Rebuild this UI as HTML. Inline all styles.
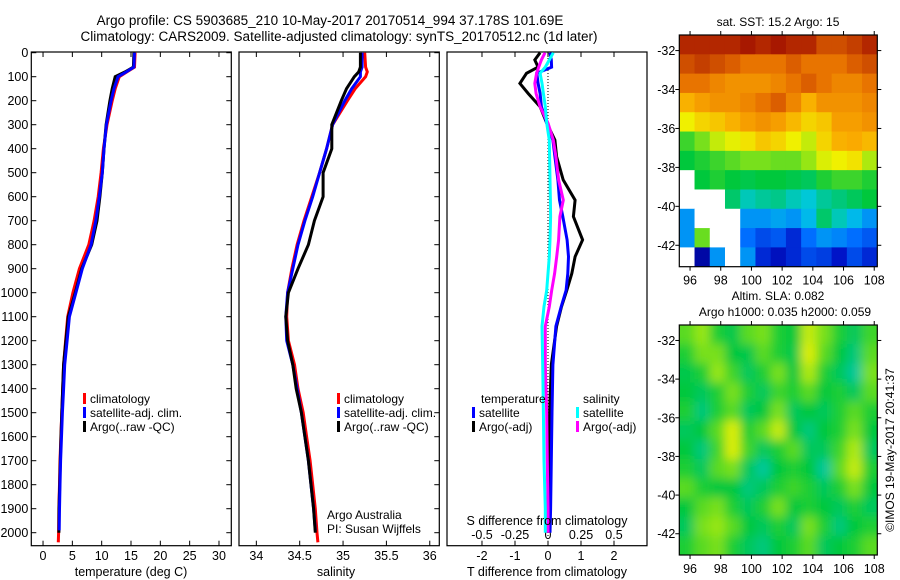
<!DOCTYPE html>
<html><head><meta charset="utf-8"><style>
html,body{margin:0;padding:0;background:#fff;}
svg{display:block;font-family:"Liberation Sans",sans-serif;}
</style></head><body>
<svg id="fig" width="900" height="580" viewBox="0 0 900 580" xmlns="http://www.w3.org/2000/svg">
<rect width="900" height="580" fill="#fff"/>
<text x="330" y="25" font-size="13.5" text-anchor="middle">Argo profile: CS 5903685_210 10-May-2017 20170514_994 37.178S 101.69E</text>
<text x="339" y="41" font-size="13.5" text-anchor="middle">Climatology: CARS2009. Satellite-adjusted climatology: synTS_20170512.nc (1d later)</text>
<g id="g1"></g>
<g id="g2"></g>
<g id="g3"></g>
<g id="g4"></g>
<g id="g5"></g>
<text x="778" y="26" font-size="12" text-anchor="middle">sat. SST: 15.2 Argo: 15</text>
<text x="778" y="300" font-size="12" text-anchor="middle">Altim. SLA: 0.082</text>
<text x="785" y="316" font-size="12" text-anchor="middle">Argo h1000: 0.035 h2000: 0.059</text>
<text transform="translate(894,450) rotate(-90)" font-size="12" text-anchor="middle">©IMOS 19-May-2017 20:41:37</text>
<text x="327" y="519" font-size="12">Argo Australia</text>
<text x="327" y="533" font-size="12">PI: Susan Wijffels</text>
</svg>
<script>
// ---- data ----
const depthT = [0,60,80,100,150,200,300,400,500,600,700,800,900,1000,1100,1200,1300,1400,1500,1600,1700,1800,1900,2000];
const argoT = [15.5,15.4,14,12.3,11.8,11.4,10.75,10.4,10.1,9.7,9.2,8.3,6.6,5.5,4.3,3.9,3.5,3.35,3.2,3.07,2.95,2.85,2.73,2.7];
const climT = [15.7,15.6,14.3,13,12.3,11.8,10.9,10.3,9.9,9.4,8.7,7.8,6.2,5.1,4.2,3.85,3.5,3.35,3.2,3.05,2.9,2.8,2.7,2.65];
const satT = [15.6,15.5,14.2,12.8,12.1,11.6,10.8,10.4,10.1,9.6,9.0,8.2,6.7,5.6,4.5,4.1,3.7,3.5,3.3,3.15,3.0,2.9,2.8,2.75];
const argoS = [35.2,35.2,35.18,35.13,35.04,34.98,34.87,34.87,34.77,34.77,34.67,34.6,34.48,34.37,34.34,34.36,34.42,34.46,34.52,34.56,34.6,34.63,34.66,34.68];
const climS = [35.25,35.26,35.28,35.26,35.14,35.05,34.88,34.81,34.73,34.64,34.55,34.47,34.41,34.36,34.35,34.37,34.44,34.48,34.54,34.58,34.62,34.65,34.68,34.70];
const satS = [35.22,35.22,35.2,35.2,35.1,35.02,34.88,34.81,34.73,34.65,34.56,34.48,34.42,34.36,34.34,34.35,34.42,34.47,34.52,34.56,34.6,34.63,34.66,34.68];
const diffDepth = [0,30,60,86,128,170,225,293,364,433,530,614,683,780,850,920,990,1058,1140,1300,1500,1700,1900,2000];
const argoTdiff = [-0.24,-0.4,-0.3,-0.65,-0.85,-0.6,-0.24,-0.04,0.21,0.26,0.46,0.82,0.77,1.05,0.82,0.72,0.57,0.41,0.26,0.1,0.05,0.02,0,0];
const satTdiff = [0.06,0.1,0.11,-0.34,-0.3,-0.24,-0.2,-0.04,0.15,0.21,0.3,0.35,0.45,0.58,0.62,0.6,0.55,0.4,0.24,0.15,0.12,0.1,0.08,0.06];
const argoSdiff = [-0.023,-0.05,-0.07,-0.086,-0.1,-0.09,-0.06,0,0.04,0.06,0.08,0.116,0.09,0.08,0.066,0.05,0.028,0.01,-0.02,-0.02,-0.01,-0.005,0,0];
const satSdiff = [0.04,0.01,-0.02,-0.06,-0.045,-0.035,-0.02,-0.01,0.01,0.012,0.015,0.018,0.02,0.015,0.01,0,-0.01,-0.03,-0.045,-0.04,-0.035,-0.03,-0.02,-0.02];
const depthTicks = [0,100,200,300,400,500,600,700,800,900,1000,1100,1200,1300,1400,1500,1600,1700,1800,1900,2000];
const tempTicks = [0,5,10,15,20,25,30];
const salTicks = [34,34.5,35,35.5,36];
const tdTicks = [-2,-1,0,1,2];
const sdTicks = [-0.5,-0.25,0,0.25,0.5];
const latTicks = [-32,-34,-36,-38,-40,-42];
const lonTicks = [96,98,100,102,104,106,108];
// SST map grid (jet colour index 0..1; null = missing), rows north->south
const sstGrid = [
[.95,.95,.95,.95,.97,.95,.97,.95,.95,.9,.9,.92,.95],
[.9,.92,.9,.88,.85,.85,.85,.88,.85,.85,.85,.88,.9],
[.85,.85,.82,.8,.8,.8,.82,.85,.88,.85,.82,.82,.85],
[.75,.78,.8,.8,.82,.85,.88,.82,.75,.8,.8,.8,.82],
[.66,.7,.72,.75,.78,.8,.78,.74,.7,.72,.78,.78,.8],
[.52,.56,.62,.65,.68,.72,.7,.66,.62,.7,.75,.76,.74],
[.48,.5,.52,.54,.56,.56,.55,.55,.58,.64,.66,.68,.6],
[null,.48,.5,.48,.47,.48,.48,.47,.46,.5,.52,.52,.5],
[null,null,null,.45,.4,.42,.43,.4,.38,.42,.44,.46,.48],
[.3,null,null,null,.3,.3,.32,.3,.35,.45,.4,.35,.3],
[.3,.55,null,null,.25,.2,.22,.15,.25,.3,.28,.25,.22],
[null,.05,.3,null,.3,.15,.1,.15,.2,.18,.12,.2,.15]];
const slaGrid = [
[.54,.58,.5,.47,.54,.56,.5,.48,.62,.56,.5,.46,.52],
[.5,.56,.56,.48,.47,.54,.5,.47,.64,.54,.48,.44,.54],
[.47,.5,.58,.52,.46,.5,.56,.48,.6,.5,.46,.42,.56],
[.48,.46,.5,.56,.5,.46,.52,.5,.54,.48,.5,.46,.54],
[.5,.44,.5,.54,.46,.48,.56,.46,.48,.46,.5,.54,.5],
[.46,.48,.54,.64,.5,.54,.62,.48,.44,.48,.5,.56,.48],
[.48,.44,.52,.64,.52,.46,.5,.54,.46,.46,.52,.6,.46],
[.5,.46,.54,.56,.46,.42,.48,.5,.48,.42,.54,.62,.5],
[.54,.5,.48,.48,.44,.46,.5,.52,.5,.46,.5,.56,.48],
[.48,.54,.56,.5,.46,.5,.56,.48,.5,.48,.46,.5,.46],
[.46,.56,.58,.54,.48,.46,.5,.46,.56,.5,.44,.48,.5],
[.5,.54,.56,.5,.46,.44,.48,.5,.54,.46,.48,.5,.54]];

const NS = "http://www.w3.org/2000/svg";
function mk(parent, tag, attrs, txt){const e=document.createElementNS(NS,tag);for(const k in attrs)e.setAttribute(k,attrs[k]);if(txt!==undefined)e.textContent=txt;parent.appendChild(e);return e;}

const Y0 = 52.7, PXD = 0.24, PTOP = 52, PBOT = 545.7;
const yD = d => Y0 + d*PXD;

function panel(g, x0, x1, xmin, xmax){
  const sx = v => x0 + (v - xmin)/(xmax - xmin)*(x1 - x0);
  const r = mk(g,'rect',{x:x0,y:PTOP,width:x1-x0,height:PBOT-PTOP,fill:'none',stroke:'#000','stroke-width':1.2});
  
  
  return sx;
}
function line(g, xs, ds, sx, color, name){
  const pts = xs.map((v,i)=>sx(v).toFixed(1)+','+yD(ds[i]).toFixed(1)).join(' ');
  const p = mk(g,'polyline',{points:pts,fill:'none',stroke:color,'stroke-width':3,'stroke-linejoin':'miter'});
  
  
}
function depthAxis(g, xl, xr, labels){
  depthTicks.forEach(d=>{
    const y = yD(d);
    if(labels){
      const t = mk(g,'text',{x:xl-3,y:y+4.5,'font-size':12.5,'text-anchor':'end'},String(d));
      
      
      mk(g,'line',{x1:xl,x2:xl+5,y1:y,y2:y,stroke:'#000'});
    }
    mk(g,'line',{x1:xr-5,x2:xr,y1:y,y2:y,stroke:'#000'});
  });
}
function xAxis(g, ticks, sx, y){
  ticks.forEach(v=>{
    const x = sx(v);
    mk(g,'line',{x1:x,x2:x,y1:PBOT,y2:PBOT-5,stroke:'#000'});
    mk(g,'line',{x1:x,x2:x,y1:PTOP,y2:PTOP+5,stroke:'#000'});
    const t = mk(g,'text',{x:x,y:y,'font-size':12.5,'text-anchor':'middle'},String(v));
    
    
  });
}
function legendEntry(g, x, y, color, label){
  const e = mk(g,'g',{});
  
  
  mk(e,'rect',{x:x,y:y-10,width:3,height:11,fill:color});
  mk(e,'text',{x:x+7,y:y,'font-size':12},label);
}

// Panel 1: temperature
const g1 = document.getElementById('g1');
const sxT = panel(g1, 31.3, 231.3, -2, 32.1);
depthAxis(g1, 31.3, 231.3, true);
xAxis(g1, tempTicks, sxT, 560);
line(g1, climT.concat([2.6]), depthT.concat([2040]), sxT, '#f00', 'temp-climatology-line');
line(g1, argoT, depthT, sxT, '#000', 'temp-argo-line');
line(g1, satT, depthT.map(d=>Math.min(d,1990)), sxT, '#00f', 'temp-satellite-line');
{const t=mk(g1,'text',{x:131,y:576,'font-size':12.5,'text-anchor':'middle'},'temperature (deg C)');}
legendEntry(g1, 83, 403, '#f00', 'climatology');
legendEntry(g1, 83, 417, '#00f', 'satellite-adj. clim.');
legendEntry(g1, 83, 431, '#000', 'Argo(..raw -QC)');

// Panel 2: salinity
const g2 = document.getElementById('g2');
const sxS = panel(g2, 239, 439.3, 33.8, 36.11);
depthAxis(g2, 239, 439.3, false);
xAxis(g2, salTicks, sxS, 560);
line(g2, climS.concat([34.71]), depthT.concat([2040]), sxS, '#f00', 'sal-climatology-line');
line(g2, satS, depthT.map(d=>Math.min(d,1990)), sxS, '#00f', 'sal-satellite-line');
line(g2, argoS, depthT, sxS, '#000', 'sal-argo-line');
{const t=mk(g2,'text',{x:336,y:576,'font-size':12.5,'text-anchor':'middle'},'salinity');}
legendEntry(g2, 337, 403, '#f00', 'climatology');
legendEntry(g2, 337, 417, '#00f', 'satellite-adj. clim.');
legendEntry(g2, 337, 431, '#000', 'Argo(..raw -QC)');

// Panel 3: differences
const g3 = document.getElementById('g3');
const sxD = panel(g3, 447, 647, -3.06, 3.0);
const sxSD = v => sxD(v*4);
mk(g3,'line',{x1:sxD(0),x2:sxD(0),y1:PTOP,y2:PBOT,stroke:'#000','stroke-dasharray':'1,2'});
tdTicks.forEach(v=>{const x=sxD(v);mk(g3,'line',{x1:x,x2:x,y1:PTOP,y2:PTOP+5,stroke:'#000'});
  const t=mk(g3,'text',{x:x,y:560,'font-size':12.5,'text-anchor':'middle'},String(v));});
sdTicks.forEach(v=>{const x=sxSD(v);mk(g3,'line',{x1:x,x2:x,y1:PBOT,y2:PBOT-5,stroke:'#000'});
  const t=mk(g3,'text',{x:x,y:539,'font-size':12.5,'text-anchor':'middle'},String(v));});
line(g3, argoTdiff, diffDepth, sxD, '#000', 'argo-t-diff-line');
line(g3, satTdiff, diffDepth, sxD, '#00f', 'sat-t-diff-line');
line(g3, argoSdiff, diffDepth, sxSD, '#f0f', 'argo-s-diff-line');
line(g3, satSdiff, diffDepth, sxSD, '#0ff', 'sat-s-diff-line');
{const t=mk(g3,'text',{x:547,y:525,'font-size':12.5,'text-anchor':'middle'},'S difference from climatology');}
{const t=mk(g3,'text',{x:547,y:576,'font-size':12.5,'text-anchor':'middle'},'T difference from climatology');}
{const t=mk(g3,'text',{x:481,y:403,'font-size':12},'temperature');}
{const t=mk(g3,'text',{x:583,y:403,'font-size':12},'salinity');}
legendEntry(g3, 472, 417, '#00f', 'satellite');
legendEntry(g3, 472, 431, '#000', 'Argo(-adj)');
legendEntry(g3, 576, 417, '#0ff', 'satellite');
legendEntry(g3, 576, 431, '#f0f', 'Argo(-adj)');

function jet(v){
  const st=[[0,[0,0,140]],[0.12,[0,20,200]],[0.25,[0,110,255]],[0.37,[0,200,230]],[0.48,[0,200,60]],[0.58,[150,230,20]],[0.66,[240,240,0]],[0.76,[250,170,0]],[0.86,[230,110,0]],[1,[150,0,0]]];
  for(let i=1;i<st.length;i++){if(v<=st[i][0]){const a=st[i-1],b=st[i],f=(v-a[0])/(b[0]-a[0]);
    return 'rgb('+a[1].map((c,k)=>Math.round(c+(b[1][k]-c)*f)).join(',')+')';}}
  return 'rgb(150,0,0)';
}
function map(g, top, bot, grid, blur){
  const x0=679.3, x1=877.3, lonMin=95.3, lonMax=108.2, latTop=-31.2, latBot=-43.1;
  const sx = v => x0+(v-lonMin)/(lonMax-lonMin)*(x1-x0);
  const sy = v => top+(latTop-v)/(latTop-latBot)*(bot-top);
  const id='clip'+top;
  const defs=mk(g,'defs',{});
  const cp=mk(defs,'clipPath',{id:id}); mk(cp,'rect',{x:x0,y:top,width:x1-x0,height:bot-top});
  if(blur){const f=mk(defs,'filter',{id:'bl'+top}); mk(f,'feGaussianBlur',{stdDeviation:5});}
  const cells=mk(g,'g',{'clip-path':'url(#'+id+')'});
  const inner=mk(cells,'g',blur?{filter:'url(#bl'+top+')'}:{});
  const nr=grid.length, nc=grid[0].length;
  const cw=(x1-x0)/nc, ch=(bot-top)/nr;
  grid.forEach((row,r)=>row.forEach((v,c)=>{
    const cell=mk(inner,'rect',{x:x0+c*cw-(blur&&c==0?16:0),y:top+r*ch-(blur&&r==0?16:0),width:cw+0.5+(blur&&(c==nc-1||c==0)?16:0),height:ch+0.5+(blur&&(r==nr-1||r==0)?16:0),fill:v===null?'#fff':jet(v)});
    
    
  }));
  mk(g,'rect',{x:x0,y:top,width:x1-x0,height:bot-top,fill:'none',stroke:'#000','stroke-width':1.2});
  latTicks.forEach(v=>{const y=sy(v);mk(g,'line',{x1:x0-4,x2:x0,y1:y,y2:y,stroke:'#000'});mk(g,'line',{x1:x1,x2:x1+4,y1:y,y2:y,stroke:'#000'});
    const t=mk(g,'text',{x:x0-4,y:y+4.5,'font-size':12.5,'text-anchor':'end'},String(v));});
  lonTicks.forEach(v=>{const x=sx(v);mk(g,'line',{x1:x,x2:x,y1:bot,y2:bot+4,stroke:'#000'});mk(g,'line',{x1:x,x2:x,y1:top-4,y2:top,stroke:'#000'});
    const t=mk(g,'text',{x:x,y:bot+18,'font-size':12.5,'text-anchor':'middle'},String(v));});
}
map(document.getElementById('g4'), 35, 266.7, sstGrid, false);
map(document.getElementById('g5'), 325, 555, slaGrid, true);
</script>
</body></html>
